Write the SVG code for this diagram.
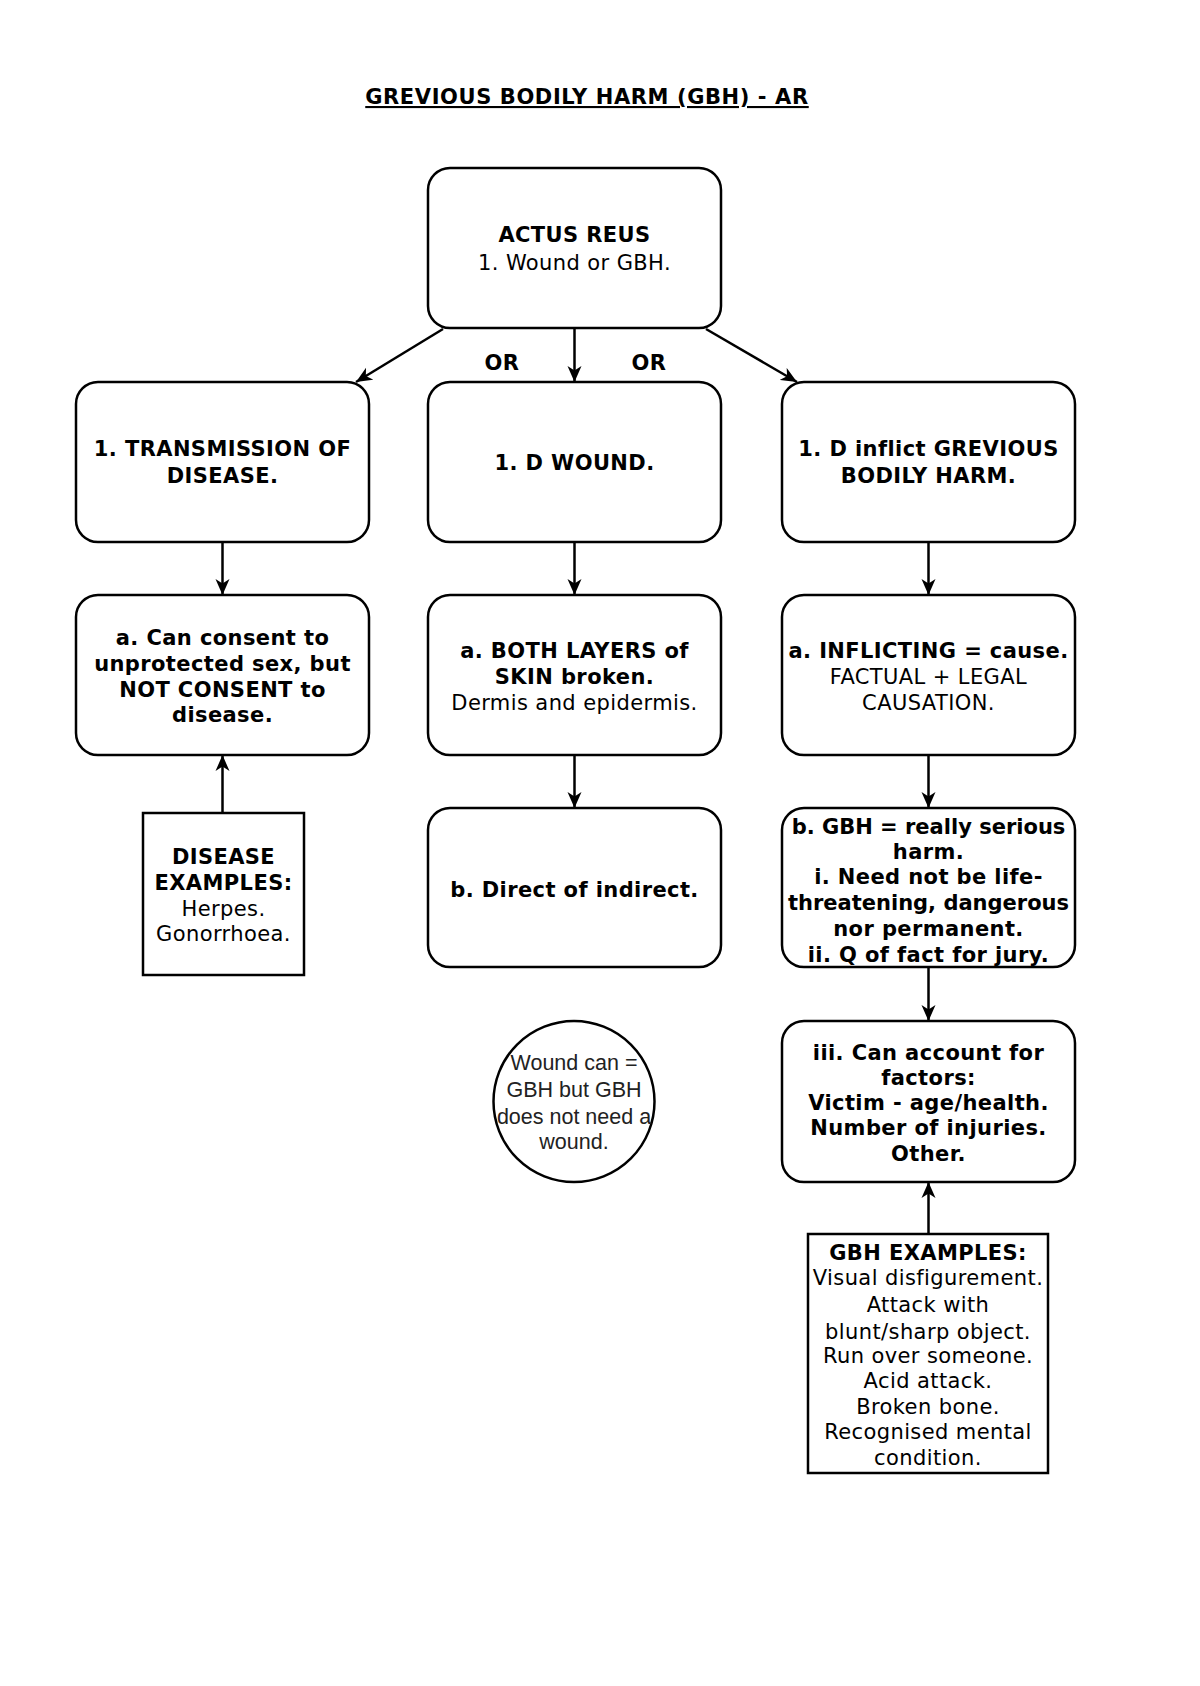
<svg xmlns="http://www.w3.org/2000/svg" width="1200" height="1686" viewBox="0 0 1200 1686">
<defs>
<marker id="arr" viewBox="0 0 16 15" refX="16" refY="7.5" markerWidth="16" markerHeight="15" markerUnits="userSpaceOnUse" orient="auto">
<path d="M0,0.5 L16,7.5 L0,14.5 L4.5,7.5 z" fill="#000"/>
</marker>
<style>
.box{fill:#fff;stroke:#000;stroke-width:2.5}
.t{font-family:"DejaVu Sans",Verdana,sans-serif;font-size:21px;fill:#000;text-anchor:middle;letter-spacing:0.4px}
.b{font-weight:bold}
.title{letter-spacing:0.6px}
.tight{letter-spacing:0px}
.c{font-family:"Liberation Sans",Arial,sans-serif;font-size:21.5px;fill:#222;text-anchor:middle}
.conn{stroke:#000;stroke-width:2.5;fill:none;marker-end:url(#arr)}
</style>
</defs>
<rect width="1200" height="1686" fill="#fff"/>
<text class="t b title" x="587" y="104" text-decoration="underline">GREVIOUS BODILY HARM (GBH) - AR</text>

<g id="connectors">
<line class="conn" x1="443" y1="329" x2="356" y2="382"/>
<line class="conn" x1="574.5" y1="329" x2="574.5" y2="382"/>
<line class="conn" x1="706" y1="329" x2="797" y2="382"/>
<line class="conn" x1="222.5" y1="542" x2="222.5" y2="595"/>
<line class="conn" x1="574.5" y1="542" x2="574.5" y2="595"/>
<line class="conn" x1="928.5" y1="542" x2="928.5" y2="595"/>
<line class="conn" x1="574.5" y1="755" x2="574.5" y2="808"/>
<line class="conn" x1="928.5" y1="755" x2="928.5" y2="808"/>
<line class="conn" x1="928.5" y1="967" x2="928.5" y2="1021"/>
<line class="conn" x1="222.5" y1="813" x2="222.5" y2="755"/>
<line class="conn" x1="928.5" y1="1234" x2="928.5" y2="1182"/>
<text class="t b" x="502" y="370">OR</text>
<text class="t b" x="649" y="370">OR</text>
</g>

<g id="actus">
<rect class="box" x="428" y="168" width="293" height="160" rx="22"/>
<text class="t b" x="574.5" y="242">ACTUS REUS</text>
<text class="t" x="574.5" y="270">1. Wound or GBH.</text>
</g>

<g id="transmission">
<rect class="box" x="76" y="382" width="293" height="160" rx="22"/>
<text class="t b" x="222.5" y="456">1. TRANSMISSION OF</text>
<text class="t b" x="222.5" y="483">DISEASE.</text>
</g>

<g id="dwound">
<rect class="box" x="428" y="382" width="293" height="160" rx="22"/>
<text class="t b" x="574.5" y="470">1. D WOUND.</text>
</g>

<g id="dinflict">
<rect class="box" x="782" y="382" width="293" height="160" rx="22"/>
<text class="t b" x="928.5" y="456">1. D inflict GREVIOUS</text>
<text class="t b" x="928.5" y="483">BODILY HARM.</text>
</g>

<g id="consent">
<rect class="box" x="76" y="595" width="293" height="160" rx="22"/>
<text class="t b" x="222.5" y="645">a. Can consent to</text>
<text class="t b" x="222.5" y="671">unprotected sex, but</text>
<text class="t b" x="222.5" y="697">NOT CONSENT to</text>
<text class="t b" x="222.5" y="722">disease.</text>
</g>

<g id="layers">
<rect class="box" x="428" y="595" width="293" height="160" rx="22"/>
<text class="t b" x="574.5" y="658">a. BOTH LAYERS of</text>
<text class="t b" x="574.5" y="684">SKIN broken.</text>
<text class="t" x="574.5" y="710">Dermis and epidermis.</text>
</g>

<g id="inflicting">
<rect class="box" x="782" y="595" width="293" height="160" rx="22"/>
<text class="t b" x="928.5" y="658">a. INFLICTING = cause.</text>
<text class="t" x="928.5" y="684">FACTUAL + LEGAL</text>
<text class="t" x="928.5" y="710">CAUSATION.</text>
</g>

<g id="direct">
<rect class="box" x="428" y="808" width="293" height="159" rx="22"/>
<text class="t b" x="574.5" y="897">b. Direct of indirect.</text>
</g>

<g id="gbhserious">
<rect class="box" x="782" y="808" width="293" height="159" rx="22"/>
<text class="t b tight" x="928.5" y="834">b. GBH = really serious</text>
<text class="t b" x="928.5" y="859">harm.</text>
<text class="t b" x="928.5" y="884">i. Need not be life-</text>
<text class="t b tight" x="928.5" y="910">threatening, dangerous</text>
<text class="t b" x="928.5" y="936">nor permanent.</text>
<text class="t b" x="928.5" y="962">ii. Q of fact for jury.</text>
</g>

<g id="factors">
<rect class="box" x="782" y="1021" width="293" height="161" rx="22"/>
<text class="t b" x="928.5" y="1060">iii. Can account for</text>
<text class="t b" x="928.5" y="1085">factors:</text>
<text class="t b" x="928.5" y="1110">Victim - age/health.</text>
<text class="t b" x="928.5" y="1135">Number of injuries.</text>
<text class="t b" x="928.5" y="1161">Other.</text>
</g>

<g id="disease-examples">
<rect class="box" x="143" y="813" width="161" height="162"/>
<text class="t b" x="223.5" y="864">DISEASE</text>
<text class="t b" x="223.5" y="890">EXAMPLES:</text>
<text class="t" x="223.5" y="916">Herpes.</text>
<text class="t" x="223.5" y="941">Gonorrhoea.</text>
</g>

<g id="note">
<circle cx="574" cy="1101.5" r="80.5" fill="#fff" stroke="#000" stroke-width="2.5"/>
<text class="c" x="574" y="1070">Wound can =</text>
<text class="c" x="574" y="1097">GBH but GBH</text>
<text class="c" x="574" y="1124">does not need a</text>
<text class="c" x="574" y="1149">wound.</text>
</g>

<g id="gbh-examples">
<rect class="box" x="808" y="1234" width="240" height="239"/>
<text class="t b" x="928" y="1260">GBH EXAMPLES:</text>
<text class="t" x="928" y="1285">Visual disfigurement.</text>
<text class="t" x="928" y="1312">Attack with</text>
<text class="t" x="928" y="1339">blunt/sharp object.</text>
<text class="t" x="928" y="1363">Run over someone.</text>
<text class="t" x="928" y="1388">Acid attack.</text>
<text class="t" x="928" y="1414">Broken bone.</text>
<text class="t" x="928" y="1439">Recognised mental</text>
<text class="t" x="928" y="1465">condition.</text>
</g>
</svg>
